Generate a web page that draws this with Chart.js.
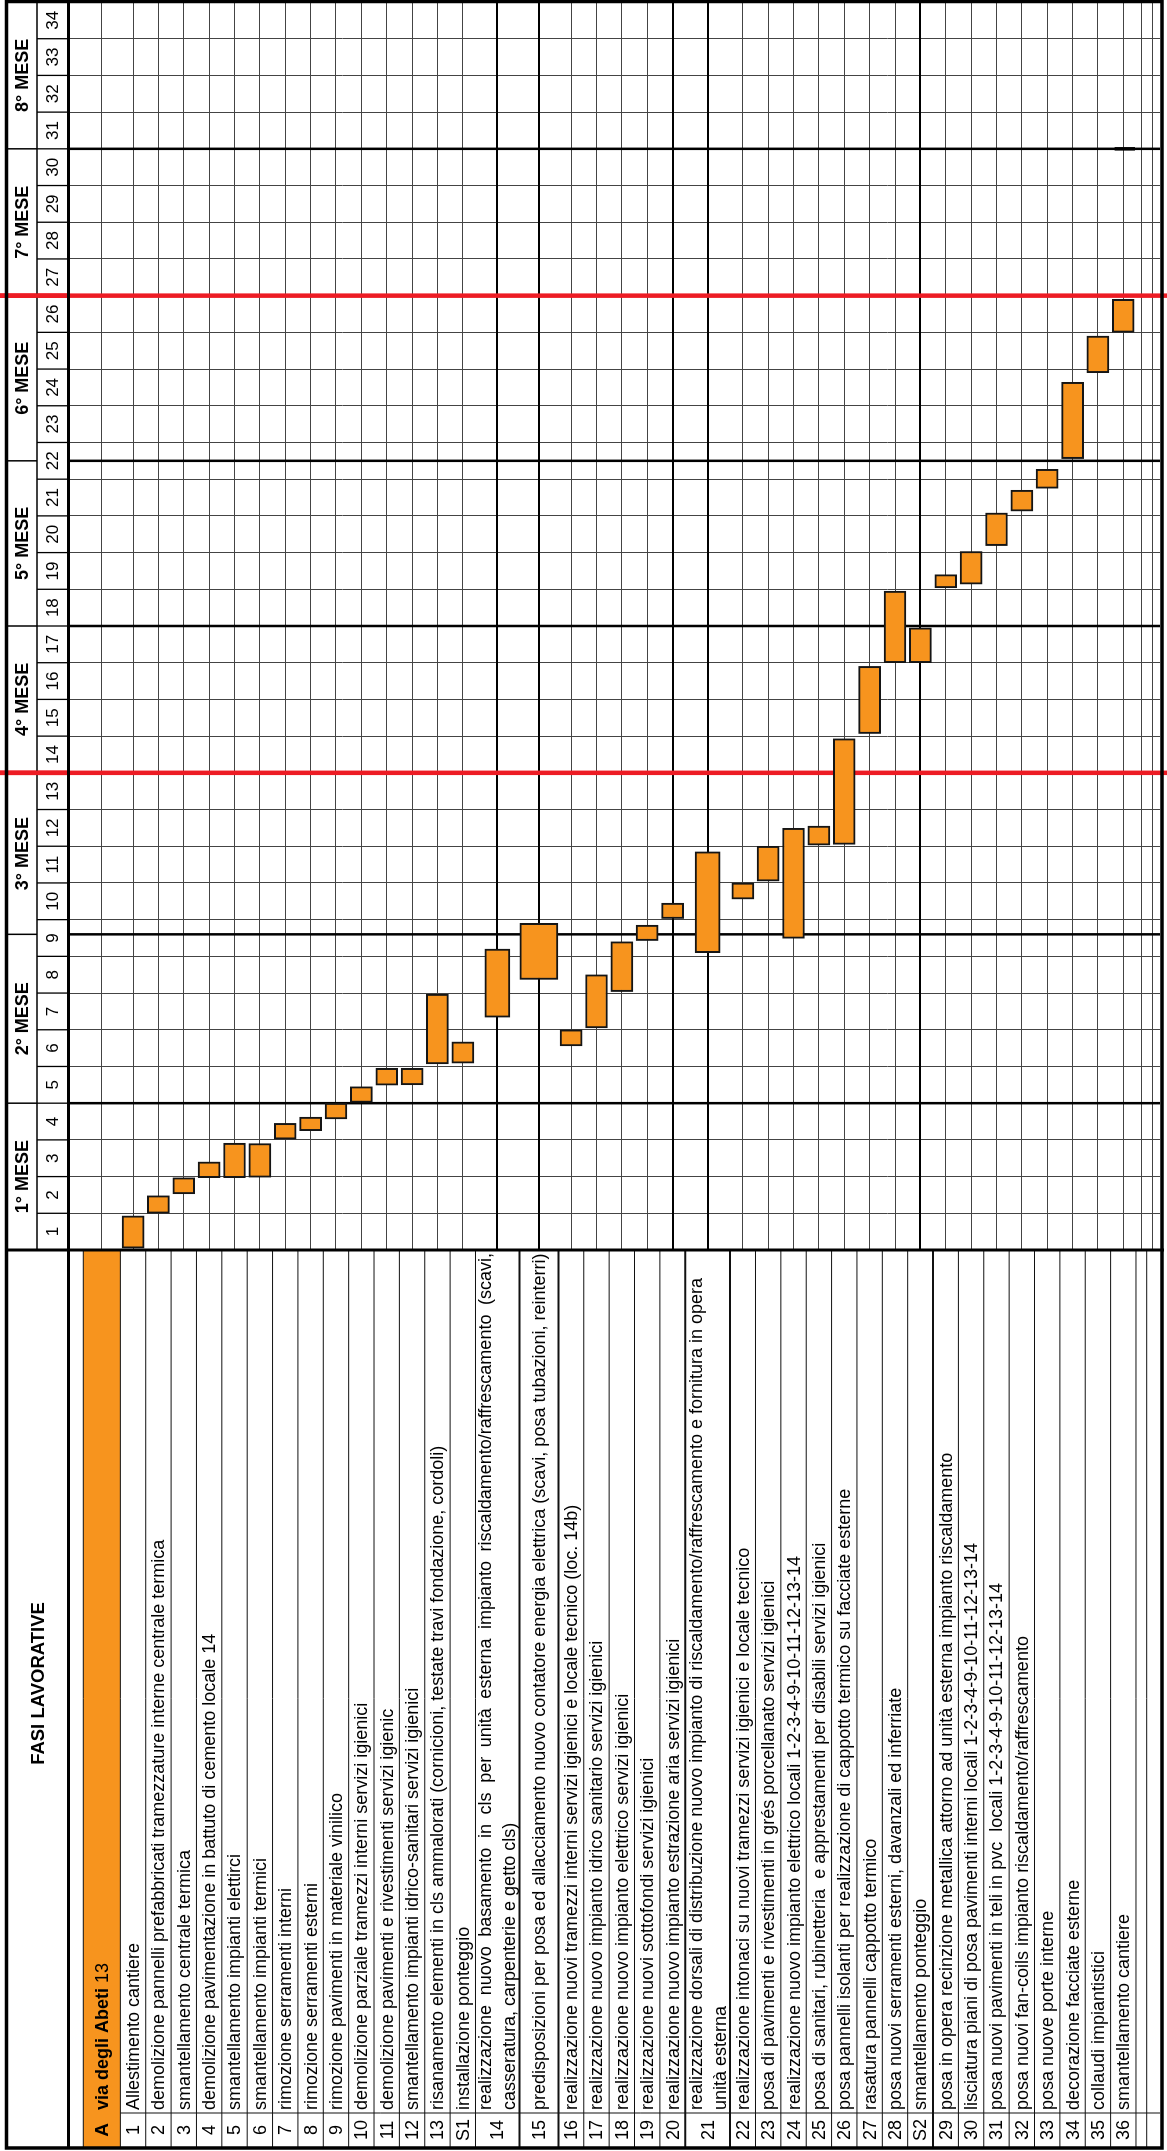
<!DOCTYPE html>
<html>
<head>
<meta charset="utf-8">
<script src="https://cdn.jsdelivr.net/npm/chart.js@4.4.1/dist/chart.umd.min.js"></script>
<style>
  html, body { margin: 0; padding: 0; background: #fff; overflow: hidden; width: 1167px; height: 2151px; }
  /* the schedule is laid out as a normal gantt and turned a quarter turn, like the printed sheet */
  #sheet { position: absolute; left: 0; top: 0; width: 2151px; height: 1167px;
           transform-origin: 0 0; transform: translateY(2151px) rotate(-90deg); }
</style>
</head>
<body>
<div id="sheet"><canvas id="gantt" width="2151" height="1167"></canvas></div>
<script>
// rows of the schedule, top to bottom ('A' is the site heading)
const taskIds = ['A', '1', '2', '3', '4', '5', '6', '7', '8', '9', '10', '11', '12', '13', 'S1',
  '14', '15', '16', '17', '18', '19', '20', '21', '22', '23', '24', '25', '26', '27', '28', 'S2',
  '29', '30', '31', '32', '33', '34', '35', '36'];

const taskLabels = [
  'via degli Abeti 13',
  'Allestimento cantiere',
  'demolizione pannelli prefabbricati tramezzature interne centrale termica',
  'smantellamento centrale termica',
  'demolizione pavimentazione in battuto di cemento locale 14',
  'smantellamento impianti elettirci',
  'smantellamento impianti termici',
  'rimozione serramenti interni',
  'rimozione serramenti esterni',
  'rimozione pavimenti in materiale vinilico',
  'demolizione parziale tramezzi interni servizi igienici',
  'demolizione pavimenti e rivestimenti servizi igienic',
  'smantellamento impianti idrico-sanitari servizi igienici',
  'risanamento elementi in cls ammalorati (cornicioni, testate travi fondazione, cordoli)',
  'installazione ponteggio',
  'realizzazione nuovo basamento in cls per unità esterna impianto riscaldamento/raffrescamento (scavi,\ncasseratura, carpenterie e getto cls)',
  'predisposizioni per posa ed allacciamento nuovo contatore energia elettrica (scavi, posa tubazioni, reinterri)',
  'realizzazione nuovi tramezzi interni servizi igienici e locale tecnico (loc. 14b)',
  'realizzazione nuovo impianto idrico sanitario servizi igienici',
  'realizzazione nuovo impianto elettrico servizi igienici',
  'realizzazione nuovi sottofondi servizi igienici',
  'realizzazione nuovo impianto estrazione aria servizi igienici',
  'realizzazione dorsali di distribuzione nuovo impianto di riscaldamento/raffrescamento e fornitura in opera\nunità esterna',
  'realizzazione intonaci su nuovi tramezzi servizi igienici e locale tecnico',
  'posa di pavimenti e rivestimenti in grés porcellanato servizi igienici',
  'realizzazione nuovo impianto elettrico locali 1-2-3-4-9-10-11-12-13-14',
  'posa di sanitari, rubinetteria  e apprestamenti per disabili servizi igienici',
  'posa pannelli isolanti per realizzazione di cappotto termico su facciate esterne',
  'rasatura pannelli cappotto termico',
  'posa nuovi serramenti esterni, davanzali ed inferriate',
  'smantellamento ponteggio',
  'posa in opera recinzione metallica attorno ad unità esterna impianto riscaldamento',
  'lisciatura piani di posa pavimenti interni locali 1-2-3-4-9-10-11-12-13-14',
  'posa nuovi pavimenti in teli in pvc  locali 1-2-3-4-9-10-11-12-13-14',
  'posa nuovi fan-coils impianto riscaldamento/raffrescamento',
  'posa nuove porte interne',
  'decorazione facciate esterne',
  'collaudi impiantistici',
  'smantellamento cantiere'
];

// bar start / end, in weeks counted from the beginning of week 1
const barStart = [null, 0.05, 1.0, 1.53, 1.97, 1.97, 1.98, 3.02, 3.25, 3.57, 4.02, 4.49, 4.5, 5.07, 5.09,
  6.34, 7.37, 5.56, 6.05, 7.04, 8.43, 9.03, 8.1, 9.56, 10.05, 8.49, 11.03, 11.05, 14.07, 16.0, 16.0,
  18.04, 18.14, 19.19, 20.13, 20.75, 21.56, 23.9, 25.0];
const barEnd = [null, 0.93, 1.48, 1.97, 2.4, 2.91, 2.9, 3.45, 3.62, 4.0, 4.45, 4.95, 4.95, 6.97, 5.67,
  8.2, 8.9, 6.0, 7.5, 8.4, 8.85, 9.45, 10.85, 10.0, 11.0, 11.49, 11.55, 13.93, 15.9, 17.95, 16.95,
  18.4, 19.03, 20.08, 20.7, 21.27, 23.64, 24.9, 25.9];

const weekLabels = ['1', '2', '3', '4', '5', '6', '7', '8', '9', '10', '11', '12', '13', '14', '15', '16', '17',
  '18', '19', '20', '21', '22', '23', '24', '25', '26', '27', '28', '29', '30', '31', '32', '33', '34'];
const monthLabels = ['1° MESE', '2° MESE', '3° MESE', '4° MESE', '5° MESE', '6° MESE', '7° MESE', '8° MESE'];
const monthEnds = [4, 8.6, 13, 17, 21.5, 26, 30, 34];
const milestoneWeeks = [13, 26];

// --- layout (sheet pixels) ---
const W = 2151, H = 1167;
const ROW = 26, TAIL = 11;
const rowSize = { A: 38, '14': 45, '15': 40, '21': 46 };
const barSize = { '14': 25, '15': 38, '21': 25 };
const thickAfter = ['14', '15', '20', '21', 'S2'];
const ORANGE = '#F7941E', RED = '#ED1C24';
const FONT = '"Liberation Sans", Arial, sans-serif';
const MONTH_TOP = 8, WEEK_TOP = 37, HEAD_END = 67;
const NUM_X = 38, TEXT_X = 41;

const rowEdges = [0];
taskIds.forEach(id => rowEdges.push(rowEdges[rowEdges.length - 1] + (rowSize[id] || ROW)));
rowEdges.push(rowEdges[rowEdges.length - 1] + TAIL);
const rowMid = taskIds.map((id, i) => (rowEdges[i] + rowEdges[i + 1]) / 2);
const weekEdges = [0, ...weekLabels.map(Number)];

// one dataset per bar thickness
const groups = {};
taskIds.forEach((id, i) => {
  if (barStart[i] == null) return;
  const t = barSize[id] || 22;
  (groups[t] = groups[t] || []).push({ x: [barStart[i], barEnd[i]], y: rowMid[i] });
});
const datasets = Object.keys(groups).map(t => ({
  data: groups[t],
  barThickness: Number(t),
  stack: 'plan',
  backgroundColor: ORANGE,
  borderColor: '#151515',
  borderWidth: 2,
  borderSkipped: false
}));

function line(ctx, x1, y1, x2, y2, w, c) {
  ctx.beginPath();
  ctx.lineWidth = w;
  ctx.strokeStyle = c;
  ctx.moveTo(x1, y1);
  ctx.lineTo(x2, y2);
  ctx.stroke();
}

function justify(ctx, text, x, y, width) {
  const words = text.split(' ');
  const used = words.reduce((s, w) => s + ctx.measureText(w).width, 0);
  const gap = (width - used) / (words.length - 1);
  let cx = x;
  words.forEach(w => { ctx.fillText(w, cx, y); cx += ctx.measureText(w).width + gap; });
}

const isThick = i => i > 0 && thickAfter.includes(taskIds[i - 1]);

const tablePlugin = {
  id: 'table',
  beforeDatasetsDraw(chart) {
    const { ctx, chartArea: a, scales: { x, y } } = chart;
    ctx.save();
    monthEnds.slice(0, -1).forEach(m => {
      if (milestoneWeeks.includes(m)) return;
      const u = x.getPixelForValue(m);
      line(ctx, u, a.top, u, a.bottom, 2.5, '#000');
    });
    // short heavier stroke left on the last row at the 7th/8th month break
    const u30 = x.getPixelForValue(30);
    const last = taskIds.length - 1;
    line(ctx, u30, y.getPixelForValue(rowEdges[last]) + 4, u30, y.getPixelForValue(rowEdges[last + 1]) - 1, 3.5, '#000');
    milestoneWeeks.forEach(m => {
      const u = x.getPixelForValue(m);
      line(ctx, u, 0, u, H, 4.5, RED);
    });
    ctx.restore();
  },
  afterDraw(chart) {
    const { ctx, chartArea: a, scales: { x, y } } = chart;
    ctx.save();

    // heading row fill in the description column
    const vA0 = y.getPixelForValue(rowEdges[0]), vA1 = y.getPixelForValue(rowEdges[1]);
    ctx.fillStyle = ORANGE;
    ctx.fillRect(4, vA0, a.left - 4, vA1 - vA0);

    // row separators of the description column
    rowEdges.forEach((e, i) => {
      const v = y.getPixelForValue(e);
      line(ctx, 4, v, a.left, v, isThick(i) ? 2 : 1, '#111');
    });
    line(ctx, NUM_X, vA1, NUM_X, a.bottom, 1, '#111');

    // week number boxes and month cells
    weekEdges.forEach(w => {
      const u = x.getPixelForValue(w);
      line(ctx, u, WEEK_TOP, u, HEAD_END, 1.3, '#000');
    });
    line(ctx, a.left, WEEK_TOP, a.right, WEEK_TOP, 1.5, '#000');
    monthEnds.forEach(m => {
      const u = x.getPixelForValue(m);
      line(ctx, u, MONTH_TOP, u, WEEK_TOP, 1.5, '#000');
    });
    milestoneWeeks.forEach(m => {
      const u = x.getPixelForValue(m);
      line(ctx, u, 0, u, HEAD_END, 4.5, RED);
    });

    // heavy frame lines
    line(ctx, 4, 68.5, a.right, 68.5, 3, '#000');
    line(ctx, a.left, 5, a.left, 1164, 3, '#000');
    ctx.lineWidth = 3.5;
    ctx.strokeStyle = '#000';
    ctx.strokeRect(3, 6.5, 2149.5 - 3, 1162 - 6.5);

    // header texts
    ctx.fillStyle = '#000';
    ctx.textBaseline = 'middle';
    ctx.textAlign = 'center';
    ctx.font = 'bold 18px ' + FONT;
    let prev = 0;
    monthLabels.forEach((m, i) => {
      ctx.fillText(m, x.getPixelForValue((prev + monthEnds[i]) / 2), (MONTH_TOP + WEEK_TOP) / 2 + 1);
      prev = monthEnds[i];
    });
    ctx.font = '17px ' + FONT;
    weekLabels.forEach((w, i) => {
      ctx.fillText(w, x.getPixelForValue(i + 0.5), (WEEK_TOP + HEAD_END) / 2 + 1);
    });
    ctx.font = 'bold 18.5px ' + FONT;
    ctx.fillText('FASI LAVORATIVE', (4 + a.left) / 2 + 15, (MONTH_TOP + HEAD_END) / 2 + 1);

    // row numbers and descriptions
    taskIds.forEach((id, i) => {
      const v = y.getPixelForValue(rowMid[i]) + 1;
      ctx.textAlign = 'center';
      if (id === 'A') {
        ctx.font = 'bold 19px ' + FONT;
        ctx.fillText(id, 21, v);
        ctx.textAlign = 'left';
        const words = taskLabels[i].split(' ');
        const num = words.pop();
        const head = words.join(' ') + ' ';
        ctx.font = 'bold 18px ' + FONT;
        ctx.fillText(head, TEXT_X, v);
        const wHead = ctx.measureText(head).width;
        ctx.font = '18px ' + FONT;
        ctx.fillText(num, TEXT_X + wHead, v);
        return;
      }
      ctx.font = '18px ' + FONT;
      ctx.fillText(id, 21, v);
      ctx.textAlign = 'left';
      const parts = taskLabels[i].split('\n');
      parts.forEach((p, k) => {
        const vv = v + (k - (parts.length - 1) / 2) * 24;
        if (id === '14' && k < parts.length - 1) justify(ctx, p, TEXT_X, vv, 857);
        else ctx.fillText(p, TEXT_X, vv);
      });
    });
    ctx.restore();
  }
};

new Chart(document.getElementById('gantt'), {
  type: 'bar',
  data: { datasets },
  options: {
    indexAxis: 'y',
    responsive: false,
    animation: false,
    events: [],
    layout: { padding: { left: 901, right: 2, top: 70, bottom: 7 } },
    plugins: { legend: { display: false }, tooltip: { enabled: false } },
    scales: {
      x: {
        type: 'linear', position: 'top', min: 0, max: 34, stacked: false,
        ticks: { display: false, stepSize: 1 },
        grid: { color: '#444', lineWidth: 1, drawTicks: false },
        border: { display: false },
        afterBuildTicks: s => { s.ticks = weekEdges.map(v => ({ value: v })); },
        afterFit: s => { s.height = 0; }
      },
      y: {
        type: 'linear', reverse: true, min: 0, max: rowEdges[rowEdges.length - 1],
        ticks: { display: false },
        grid: {
          drawTicks: false,
          color: c => isThick(c.index) ? '#000' : '#444',
          lineWidth: c => isThick(c.index) ? 2 : 1
        },
        border: { display: false },
        afterBuildTicks: s => { s.ticks = rowEdges.map(v => ({ value: v })); },
        afterFit: s => { s.width = 0; }
      }
    }
  },
  plugins: [tablePlugin]
});
</script>
</body>
</html>
